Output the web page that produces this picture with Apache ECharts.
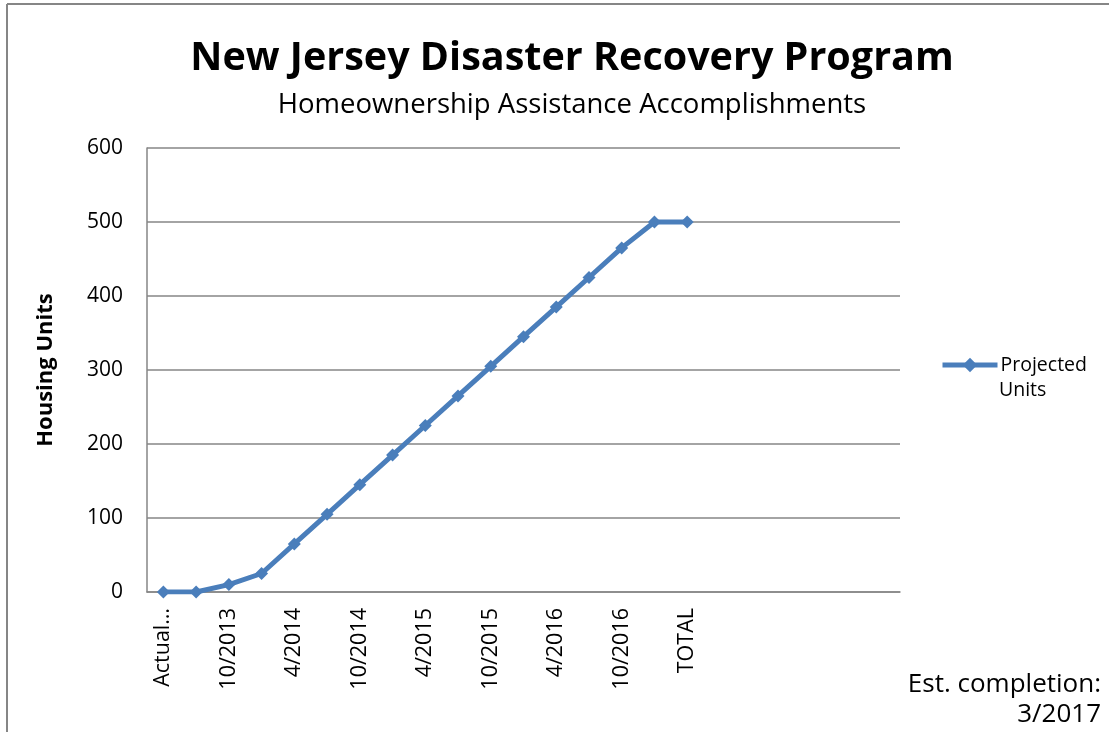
<!DOCTYPE html>
<html>
<head>
<meta charset="utf-8">
<title>New Jersey Disaster Recovery Program</title>
<script src="https://cdn.jsdelivr.net/npm/echarts@6/dist/echarts.min.js"></script>
<style>
  html, body { margin: 0; padding: 0; background: #fff; }
  #chart { width: 1109px; height: 732px; }
</style>
</head>
<body>
<div id="chart"></div>
<script>
  // quarters, labels on every other one; tail categories are empty like the source sheet
  var categories = ['Actual…', '7/2013', '10/2013', '1/2014', '4/2014', '7/2014', '10/2014', '1/2015',
    '4/2015', '7/2015', '10/2015', '1/2016', '4/2016', '7/2016', '10/2016', '1/2017', 'TOTAL',
    '', '', '', '', '', '']
  var projectedUnits = [0, 0, 10, 25, 65, 105, 145, 185, 225, 265, 305, 345, 385, 425, 465, 500, 500]
  var yTicks = [0, 100, 200, 300, 400, 500, 600]

  var font = '"Open Sans", "Noto Sans", sans-serif'
  var blue = '#4a7ebb'

  var chart = echarts.init(document.getElementById('chart'))
  chart.setOption({
    backgroundColor: '#fff',
    animation: false,
    textStyle: { fontFamily: font, color: '#000' },
    title: {
      text: 'New Jersey Disaster Recovery Program',
      subtext: 'Homeownership Assistance Accomplishments',
      left: 567,
      textAlign: 'center',
      top: 34,
      itemGap: 12,
      textStyle: { fontFamily: font, fontWeight: 'bold', fontSize: 39.5, color: '#000' },
      subtextStyle: { fontFamily: font, fontSize: 27.5, color: '#000' }
    },
    grid: { left: 147, right: 209, top: 148, bottom: 140 },
    legend: {
      data: ['Projected Units'],
      left: 940,
      top: 355,
      padding: 0,
      orient: 'vertical',
      itemWidth: 55,
      itemHeight: 18,
      formatter: function () { return 'Projected' },
      itemStyle: { color: blue },
      lineStyle: { color: blue, width: 5 },
      textStyle: { fontFamily: font, fontSize: 19.5, color: '#000', padding: [0, 0, 0, -2] }
    },
    xAxis: {
      type: 'category',
      data: categories,
      boundaryGap: true,
      axisLine: { lineStyle: { color: '#868686', width: 1.5 } },
      axisTick: { show: false },
      axisLabel: {
        interval: 1,
        rotate: 90,
        margin: 16,
        fontSize: 21.5,
        fontFamily: font,
        color: '#000'
      }
    },
    yAxis: {
      type: 'value',
      min: yTicks[0],
      max: yTicks[yTicks.length - 1],
      interval: 100,
      name: 'Housing Units',
      nameLocation: 'middle',
      nameGap: 90,
      nameTextStyle: { fontFamily: font, fontWeight: 'bold', fontSize: 22, color: '#000' },
      axisLine: { show: true, lineStyle: { color: '#868686', width: 1.5 } },
      axisTick: { show: false },
      axisLabel: { fontSize: 21, fontFamily: font, color: '#000', margin: 24 },
      splitLine: { lineStyle: { color: '#868686', width: 1.5 } }
    },
    series: [{
      name: 'Projected Units',
      type: 'line',
      data: projectedUnits,
      color: blue,
      symbol: 'diamond',
      symbolSize: 13,
      lineStyle: { width: 5, color: blue },
      itemStyle: { color: blue }
    }],
    graphic: [
      // chart frame: only top and left edges show in the crop
      { type: 'line', shape: { x1: 7, y1: 4, x2: 1109, y2: 4 }, style: { stroke: '#868686', lineWidth: 2 } },
      { type: 'line', shape: { x1: 7, y1: 4, x2: 7, y2: 732 }, style: { stroke: '#868686', lineWidth: 2 } },
      { type: 'text', x: 999, y: 380, style: { text: 'Units', font: '19.5px ' + font, fill: '#000' } },
      {
        type: 'text', x: 1101, y: 670,
        style: { text: 'Est. completion:\n3/2017', font: '26px ' + font, fill: '#000', align: 'right', lineHeight: 30 }
      }
    ]
  })
</script>
</body>
</html>
